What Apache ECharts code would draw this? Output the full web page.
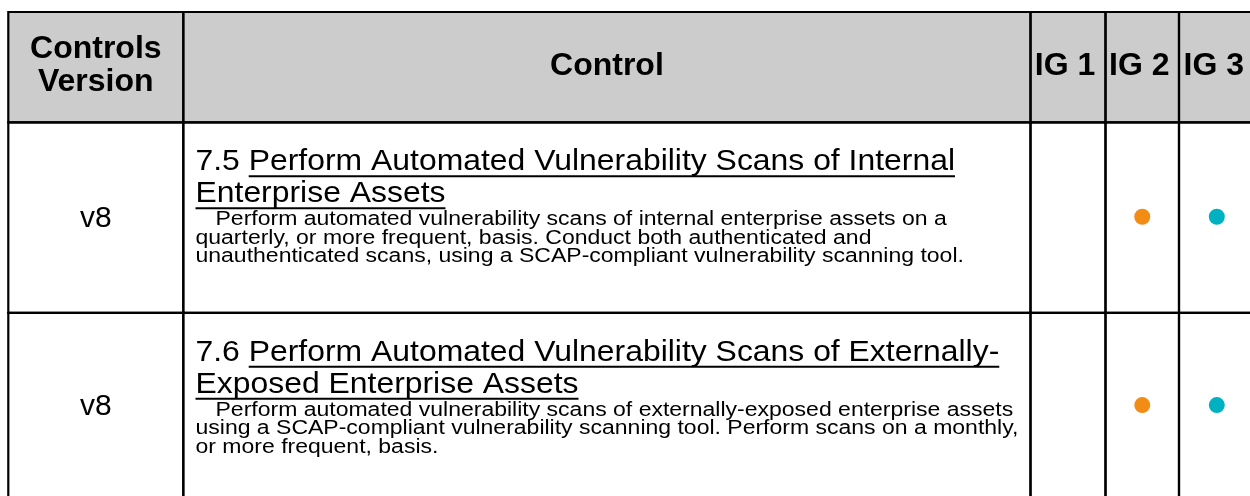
<!DOCTYPE html>
<html><head><meta charset="utf-8">
<script src="https://cdn.jsdelivr.net/npm/echarts@6/dist/echarts.min.js"></script>
<style>html,body{margin:0;padding:0;background:#fff}#c{width:1250px;height:496px}</style>
</head><body><div id="c"></div>
<script>
// ---- data ----
const headerLabels = [['Controls', 'Version'], ['Control'], ['IG 1'], ['IG 2'], ['IG 3']];
const versions = ['v8', 'v8'];
const controlIds = ['7.5', '7.6'];
const titleLines = [
  ['Perform Automated Vulnerability Scans of Internal', 'Enterprise Assets'],
  ['Perform Automated Vulnerability Scans of Externally-', 'Exposed Enterprise Assets']
];
const descLines = [
  ['Perform automated vulnerability scans of internal enterprise assets on a',
   'quarterly, or more frequent, basis. Conduct both authenticated and',
   'unauthenticated scans, using a SCAP-compliant vulnerability scanning tool.'],
  ['Perform automated vulnerability scans of externally-exposed enterprise assets',
   'using a SCAP-compliant vulnerability scanning tool. Perform scans on a monthly,',
   'or more frequent, basis.']
];
const ig1 = [false, false];
const ig2 = [true, true];
const ig3 = [true, true];

// ---- layout (positions in the page's coordinate space) ----
const COL = [8.3, 183.3, 1030.5, 1105.5, 1179, 1254.6];
const ROW = [12, 122.3, 312.8, 499];
const FONT = '"Liberation Sans", Arial, Helvetica, sans-serif';
const IG_COLORS = ['#6fa43a', '#f28c14', '#00b1c1'];
const TITLE = { size: 29, sx: 1.1, b: [50, 82] };
const DESC = { size: 20, sx: 1.15, b0: 104.5, step: 18.5, indent: 20 };

const mctx = document.createElement('canvas').getContext('2d');
function tw(text, size, weight) {
  mctx.font = (weight || 'normal') + ' ' + size + 'px ' + FONT;
  return mctx.measureText(text).width;
}
function txt(text, x, y, size, weight, align, sx) {
  // y is the alphabetic baseline
  return {
    type: 'text',
    x: x, y: y - 0.3465 * size, scaleX: sx || 1, scaleY: 1, originX: 0, originY: 0,
    style: {
      text: text, x: 0, y: 0,
      font: (weight || 'normal') + ' ' + size + 'px ' + FONT,
      fill: '#000', align: align || 'left', verticalAlign: 'middle',
      textAlign: align || 'left', textVerticalAlign: 'middle'
    }
  };
}

const cells = [];
for (let r = 0; r < ROW.length - 1; r++) for (let c = 0; c < COL.length - 1; c++) cells.push([c, r]);

function cellRect(api, c, r) {
  const p0 = api.coord([COL[c], ROW[r]]);
  const p1 = api.coord([COL[c + 1], ROW[r + 1]]);
  return { x: p0[0], y: p0[1], width: p1[0] - p0[0], height: p1[1] - p0[1] };
}

function renderCell(params, api) {
  const c = api.value(0), r = api.value(1);
  const rc = cellRect(api, c, r);
  const kids = [];
  if (r === 0) {
    kids.push({ type: 'rect', shape: rc, style: { fill: '#cccccc' } });
    const lines = headerLabels[c];
    const cx = rc.x + rc.width / 2 - (c >= 2 ? 3 : 0);
    if (lines.length === 2) {
      kids.push(txt(lines[0], cx, rc.y + 48, 32, 'bold', 'center'));
      kids.push(txt(lines[1], cx, rc.y + 81, 32, 'bold', 'center'));
    } else {
      kids.push(txt(lines[0], cx, rc.y + 65, 32, 'bold', 'center'));
    }
  } else {
    const i = r - 1;
    if (c === 0) {
      kids.push(txt(versions[i], rc.x + rc.width / 2, rc.y + rc.height / 2 + 11.5, 30, 'normal', 'center'));
    } else if (c === 1) {
      const x0 = rc.x + 12.2;
      const ts = TITLE.size, tsx = TITLE.sx;
      const b1 = rc.y + TITLE.b[0], b2 = rc.y + TITLE.b[1];
      const pre = controlIds[i] + ' ';
      const preW = tw(pre, ts) * tsx;
      kids.push(txt(pre, x0, b1, ts, 'normal', 'left', tsx));
      kids.push(txt(titleLines[i][0], x0 + preW, b1, ts, 'normal', 'left', tsx));
      const w1 = tw(titleLines[i][0], ts) * tsx;
      kids.push({ type: 'rect', shape: { x: x0 + preW, y: b1 + 3, width: w1, height: 2 }, style: { fill: '#000' } });
      kids.push(txt(titleLines[i][1], x0, b2, ts, 'normal', 'left', tsx));
      const w2 = tw(titleLines[i][1], ts) * tsx;
      kids.push({ type: 'rect', shape: { x: x0, y: b2 + 3, width: w2, height: 2 }, style: { fill: '#000' } });
      descLines[i].forEach(function (ln, k) {
        kids.push(txt(ln, x0 + (k === 0 ? DESC.indent : 0), rc.y + DESC.b0 + k * DESC.step, DESC.size, 'normal', 'left', DESC.sx));
      });
    }
  }
  return { type: 'group', children: kids };
}

function renderBorder(params, api) {
  const c = api.value(0), r = api.value(1);
  const rc = cellRect(api, c, r);
  return { type: 'rect', shape: rc, style: { fill: null, stroke: '#000', lineWidth: 2.2 } };
}

const igCols = [ig1, ig2, ig3];
const dotSeries = igCols.map(function (arr, k) {
  const data = [];
  arr.forEach(function (on, i) {
    if (on) data.push([(COL[k + 2] + COL[k + 3]) / 2, (ROW[i + 1] + ROW[i + 2]) / 2 - 0.8]);
  });
  return {
    type: 'scatter', name: headerLabels[k + 2][0], data: data, symbol: 'circle', symbolSize: 16,
    itemStyle: { color: IG_COLORS[k], opacity: 1 }, z: 5, silent: true
  };
});

const chart = echarts.init(document.getElementById('c'), null, { renderer: 'canvas' });
chart.setOption({
  animation: false,
  backgroundColor: '#ffffff',
  grid: { left: 0, right: 0, top: 0, bottom: 0 },
  xAxis: { type: 'value', min: 0, max: 1250, show: false },
  yAxis: { type: 'value', min: 0, max: 496, inverse: true, show: false },
  series: [
    { type: 'custom', data: cells, renderItem: renderCell, z: 1, silent: true, clip: false },
    { type: 'custom', data: cells, renderItem: renderBorder, z: 3, silent: true, clip: false }
  ].concat(dotSeries)
});
</script>
</body></html>
